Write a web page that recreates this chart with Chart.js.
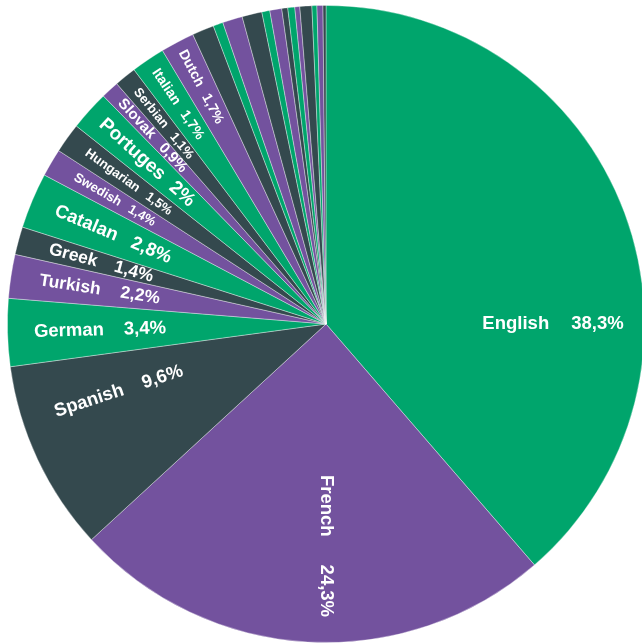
<!DOCTYPE html>
<html>
<head>
<meta charset="utf-8">
<script src="https://cdn.jsdelivr.net/npm/chart.js@4/dist/chart.umd.min.js"></script>
<style>
  html,body{margin:0;padding:0;background:#fff;overflow:hidden}
  canvas{display:block}
</style>
</head>
<body>
<canvas id="chartLang" width="652" height="643"></canvas>
<script>
// ─── DATA ───────────────────────────────────────────────────────────
const languages = ['English','French','Spanish','German','Turkish','Greek','Catalan','Swedish',
  'Hungarian','Portuges','Slovak','Serbian','Italian','Dutch',
  '','','','','','','','','','','','',''];
const shares = [38.3,24.3,9.6,3.4,2.2,1.4,2.8,1.4,1.5,2,0.9,1.1,1.7,1.7,
  1.1,0.5,1.0,1.0,0.4,0.6,0.3,0.35,0.25,0.6,0.25,0.3,0.15];

// ─── STYLE ──────────────────────────────────────────────────────────
const PALETTE = ['#00a56c','#73529e','#34494e'];
// label layout per named slice: radius, font size, gap name→value, fixed angle (deg, canvas) or null
const LABEL_LAYOUT = [
  {r:227,size:18.5,gap:22,angle:0},
  {r:222,size:18.5,gap:28,angle:90},
  {r:218,size:18.5,gap:20,angle:162},
  {r:226,size:18.5,gap:20},
  {r:229,size:17.5,gap:20},
  {r:233,size:17.5,gap:18},
  {r:231,size:18.5,gap:16},
  {r:245,size:13,gap:10},
  {r:243,size:13,gap:10},
  {r:241,size:19,gap:12},
  {r:256,size:15,gap:12},
  {r:258,size:13,gap:10},
  {r:265,size:14,gap:10},
  {r:268,size:14,gap:10}
];
const FONT = '"Liberation Sans", Arial, sans-serif';

const fmtPct = v => String(v).replace('.',',')+'%';

const sliceLabels = {
  id:'sliceLabels',
  afterDatasetsDraw(chart){
    const ctx = chart.ctx;
    const arcs = chart.getDatasetMeta(0).data;
    arcs.forEach((arc,i)=>{
      const name = languages[i];
      const lay = LABEL_LAYOUT[i];
      if(!name || !lay) return;
      const {x,y,startAngle,endAngle} = arc.getProps(['x','y','startAngle','endAngle'],true);
      let a = lay.angle!=null ? lay.angle*Math.PI/180 : (startAngle+endAngle)/2;
      const px = x + lay.r*Math.cos(a), py = y + lay.r*Math.sin(a);
      // read toward the centre on the left side, outward on the right
      const rot = Math.cos(a) < -0.01 ? a+Math.PI : a;
      const val = fmtPct(shares[i]);
      ctx.save();
      ctx.translate(px,py);
      ctx.rotate(rot);
      ctx.font = 'bold '+lay.size+'px '+FONT;
      ctx.fillStyle = '#fff';
      ctx.textBaseline = 'middle';
      ctx.textAlign = 'left';
      const wN = ctx.measureText(name).width, wV = ctx.measureText(val).width;
      const total = wN + lay.gap + wV;
      ctx.fillText(name, -total/2, 0);
      ctx.fillText(val, -total/2 + wN + lay.gap, 0);
      ctx.restore();
    });
  }
};

new Chart(document.getElementById('chartLang'),{
  type:'pie',
  data:{labels:languages,datasets:[{
    data:shares,
    backgroundColor:shares.map((_,i)=>PALETTE[i%3]),
    borderColor:'rgba(255,255,255,0.45)',
    borderWidth:0.8
  }]},
  options:{
    responsive:false,
    animation:false,
    layout:{padding:{left:7,right:7,top:5,bottom:0}},
    plugins:{legend:{display:false},tooltip:{enabled:false}}
  },
  plugins:[sliceLabels]
});
</script>
</body>
</html>
